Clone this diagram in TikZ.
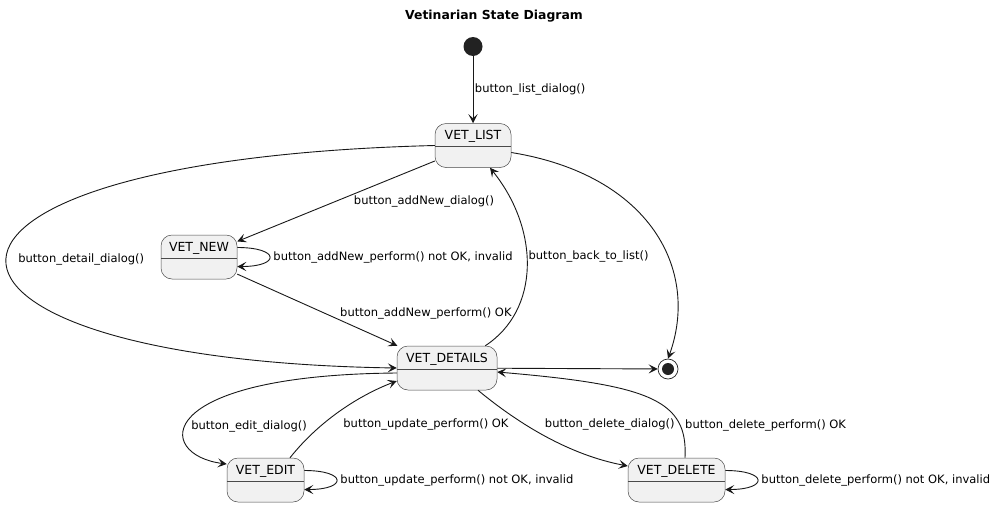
\documentclass[tikz,border=0pt]{standalone}
\usepackage{fontspec}
\setmainfont{DejaVu Sans}
\usetikzlibrary{arrows.meta,calc}
\definecolor{vstFill}{HTML}{F1F1F1}
\definecolor{vstEdge}{HTML}{181818}
\definecolor{vstLine}{HTML}{4A4A4A}
\definecolor{vstDot}{HTML}{222222}
\tikzset{
  vst/.style={draw=vstLine,line width=0.5pt,fill=vstFill,rounded corners=11pt,
              inner xsep=0pt,inner ysep=0pt,text height=16pt,text depth=28pt,
              font=\fontsize{12.5pt}{14pt}\selectfont},
  vstbar/.style={draw=vstLine,line width=0.5pt},
  vstflow/.style={-{Stealth[length=9pt,width=9pt,inset=4pt]},draw=vstEdge,line width=0.9pt},
  vstlbl/.style={font=\fontsize{11.5pt}{13pt}\selectfont,text=black,inner sep=1.5pt},
  vstinit/.style={circle,fill=vstDot,minimum size=19pt,inner sep=0pt},
  vstfinal/.style={circle,draw=vstDot,line width=0.7pt,fill=white,minimum size=20pt,inner sep=0pt,
                   path picture={\fill[vstDot] (path picture bounding box.center) circle (6pt);}},
}
\begin{document}
\begin{tikzpicture}[x=1pt,y=-1pt]
  \fill[white] (0,0) rectangle (1000,506);
  \useasboundingbox (0,0) rectangle (1000,506);
  \node[font=\bfseries\fontsize{12.4pt}{15pt}\selectfont] (Title) at (494,16) {Vetinarian State Diagram};

  \node[vstinit] (Init) at (473,46.5) {};
  \node[vst,minimum width=76pt] (List) at (473,145.5) {VET\_LIST};
  \node[vst,minimum width=76pt] (New) at (199,257) {VET\_NEW};
  \node[vst,minimum width=100pt] (Details) at (447,368) {VET\_DETAILS};
  \node[vst,minimum width=77pt] (Edit) at (265.5,480) {VET\_EDIT};
  \node[vst,minimum width=97pt] (Delete) at (676.5,480) {VET\_DELETE};
  \node[vstfinal] (Final) at (668,369) {};
  \foreach \s in {List,New,Details,Edit,Delete}{\draw[vstbar] ([yshift=-23pt]\s.north west) -- ([yshift=-23pt]\s.north east);}

  \draw[vstflow] (Init) -- node[vstlbl,right]{button\_list\_dialog()} (List);
  \draw[vstflow] (List.west) .. controls (-140,160) and (-120,360) .. node[vstlbl,pos=.5,right=10pt]{button\_detail\_dialog()} (Details.west);
  \draw[vstflow] (List) -- node[vstlbl,pos=.5,right=16pt]{button\_addNew\_dialog()} (New);
  \draw[vstflow] ([yshift=9.5pt]New.east) .. controls +(43,0) and +(43,0) .. node[vstlbl,right=2pt]{button\_addNew\_perform() not OK, invalid} ([yshift=-9.5pt]New.east);
  \draw[vstflow] (New) -- node[vstlbl,pos=.55,right=13pt]{button\_addNew\_perform() OK} (Details);
  \draw[vstflow] ([xshift=-12pt]Details.north east) .. controls (540,310) and (540,230) .. node[vstlbl,pos=.55,right]{button\_back\_to\_list()} ([xshift=17pt]List.south);
  \draw[vstflow] ([yshift=-7pt]List.east) .. controls (650,175) and (700,270) .. (Final.north);
  \draw[vstflow] (Details) -- (Final);
  \draw[vstflow] ([xshift=8.5pt]Delete.north) .. controls (688,400) and (650,385) .. node[vstlbl,pos=.22,right=3pt]{button\_delete\_perform() OK} ([yshift=-4pt]Details.east);
  \draw[vstflow] ([yshift=-5pt]Details.west) .. controls (150,375) and (155,455) .. node[vstlbl,pos=.58,right=4pt]{button\_edit\_dialog()} ([yshift=16pt]Edit.west);
  \draw[vstflow] ([xshift=24.5pt]Edit.north) .. controls (320,420) and (360,395) .. node[vstlbl,pos=.33,right=19pt]{button\_update\_perform() OK} ([yshift=-13pt]Details.west);
  \draw[vstflow] ([xshift=31pt]Details.south) .. controls (520,425) and (570,455) .. node[vstlbl,pos=.35,right=18pt]{button\_delete\_dialog()} ([yshift=14pt]Delete.west);
  \draw[vstflow] ([yshift=9.5pt]Edit.east) .. controls +(43,0) and +(43,0) .. node[vstlbl,right=2pt]{button\_update\_perform() not OK, invalid} ([yshift=-9.5pt]Edit.east);
  \draw[vstflow] ([yshift=9.5pt]Delete.east) .. controls +(43,0) and +(43,0) .. node[vstlbl,right=2pt]{button\_delete\_perform() not OK, invalid} ([yshift=-9.5pt]Delete.east);
\end{tikzpicture}
\end{document}
